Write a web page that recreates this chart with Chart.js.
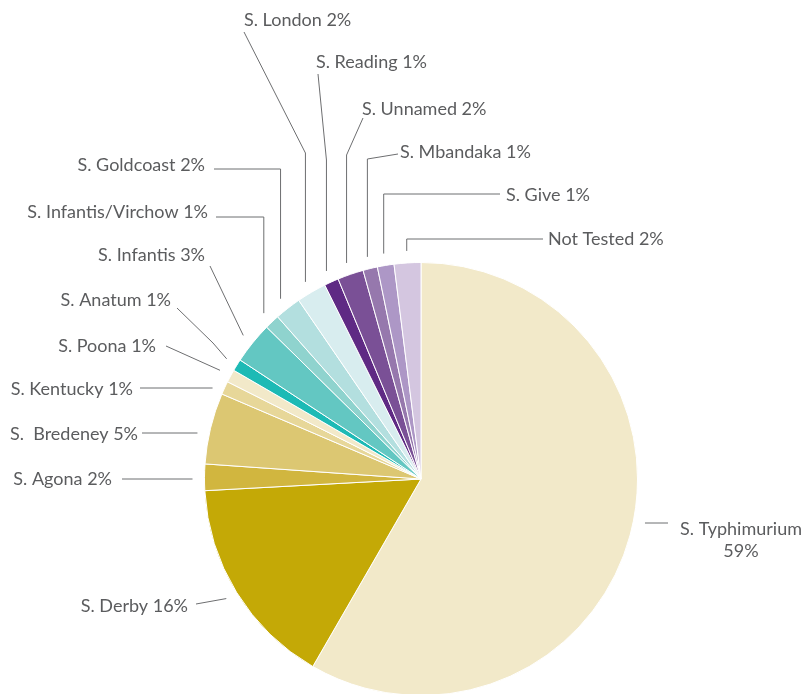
<!DOCTYPE html>
<html><head><meta charset="utf-8">
<script src="https://cdn.jsdelivr.net/npm/chart.js@4/dist/chart.umd.min.js"></script>
<style>html,body{margin:0;padding:0;background:#fff;overflow:hidden}#wrap{position:relative;width:808px;height:700px}</style>
</head><body><div id="wrap"><canvas id="c"></canvas></div>
<script>
// ---- data ----
const categories = ['S. Typhimurium','S. Derby','S. Agona','S.  Bredeney','S. Kentucky','S. Poona','S. Anatum','S. Infantis','S. Infantis/Virchow','S. Goldcoast','S. London','S. Reading','S. Unnamed','S. Mbandaka','S. Give','Not Tested'];
const values = [58.33,15.81,1.97,5.31,0.99,0.96,0.89,3.11,1.11,1.97,2.22,1.08,1.94,1.08,1.24,1.99];
const percentLabels = ['59%','16%','2%','5%','1%','1%','1%','3%','1%','2%','2%','1%','2%','1%','1%','2%'];

// ---- style ----
const colors = ['#F2E9C9','#C4A906','#D1B63F','#DCC772','#E7D799','#F2E9C9','#1DBAB5','#63C7C2','#8FD3CE','#B3DFDF','#D8EDEF','#5F2A84','#7A5096','#9678AD','#AD97C6','#D4C6E0'];
// label layout: text x, baseline y, align, leader anchor near text (ax, ay), mode, elbow
const labelLayout = [
  {x:741, y:535, align:'center', ax:668, ay:523, mode:'h', twoLine:true, y2:557},
  {x:188, y:612, align:'right', ax:196, ay:604, mode:'d'},
  {x:112, y:485, align:'right', ax:122, ay:479, mode:'h'},
  {x:138, y:440, align:'right', ax:142, ay:433, mode:'h'},
  {x:133, y:395, align:'right', ax:140, ay:388, mode:'h'},
  {x:156, y:352, align:'right', ax:166, ay:346, mode:'d'},
  {x:171, y:306, align:'right', ax:177, ay:308, mode:'d', ex:213, ey:343},
  {x:205, y:261, align:'right', ax:210, ay:266, mode:'d'},
  {x:208, y:218, align:'right', ax:216, ay:217, mode:'v'},
  {x:205, y:171, align:'right', ax:214, ay:169, mode:'v'},
  {x:244, y:26, align:'left', ax:244, ay:32, mode:'vd', elbowY:153},
  {x:316, y:68, align:'left', ax:318, ay:74, mode:'vd', elbowY:160},
  {x:362, y:115, align:'left', ax:363, ay:118, mode:'vd', elbowY:155},
  {x:400, y:158, align:'left', ax:398, ay:154, mode:'vd', elbowY:159},
  {x:506, y:201, align:'left', ax:500, ay:194, mode:'v'},
  {x:548, y:245, align:'left', ax:543, ay:239, mode:'v'}
];
const GAP = 12;

const leaderPlugin = {
  id:'leaders',
  afterDraw(chart){
    const ctx = chart.ctx;
    const meta = chart.getDatasetMeta(0);
    ctx.save();
    ctx.strokeStyle = '#6d6e70';
    ctx.lineWidth = 1;
    ctx.fillStyle = '#5b5c5e';
    ctx.font = '18px Lato';
    meta.data.forEach((arc, i) => {
      const L = labelLayout[i];
      const cx = arc.x, cy = arc.y, r = arc.outerRadius;
      const mid = (arc.startAngle + arc.endAngle) / 2;
      const px = cx + Math.cos(mid) * (r + GAP);
      const py = cy + Math.sin(mid) * (r + GAP);
      ctx.beginPath();
      if (L.mode === 'h') {
        const dy = L.ay - cy;
        const dx = Math.sqrt(Math.max(r*r - dy*dy, 0)) + GAP;
        const ex = L.ax < cx ? cx - dx : cx + dx;
        ctx.moveTo(L.ax, L.ay); ctx.lineTo(ex, L.ay);
      } else if (L.mode === 'd') {
        ctx.moveTo(L.ax, L.ay);
        if (L.ex !== undefined) ctx.lineTo(L.ex, L.ey);
        ctx.lineTo(px, py);
      } else if (L.mode === 'v') {
        ctx.moveTo(L.ax, L.ay); ctx.lineTo(px, L.ay); ctx.lineTo(px, py);
      } else if (L.mode === 'vd') {
        ctx.moveTo(L.ax, L.ay); ctx.lineTo(px, L.elbowY); ctx.lineTo(px, py);
      }
      ctx.stroke();
      ctx.textAlign = L.align;
      ctx.textBaseline = 'alphabetic';
      if (L.twoLine) {
        ctx.fillText(categories[i], L.x, L.y);
        ctx.fillText(percentLabels[i], L.x, L.y2);
      } else {
        ctx.fillText(categories[i] + ' ' + percentLabels[i], L.x, L.y);
      }
    });
    ctx.restore();
  }
};

new Chart(document.getElementById('c'), {
  type:'pie',
  data:{ labels:categories, datasets:[{ data:values, backgroundColor:colors, borderColor:'#ffffff', borderWidth:1 }]},
  options:{
    responsive:true, maintainAspectRatio:false, animation:false,
    layout:{padding:{left:204, right:170, top:262, bottom:4}},
    plugins:{legend:{display:false}, tooltip:{enabled:false}}
  },
  plugins:[leaderPlugin]
});
</script></body></html>
